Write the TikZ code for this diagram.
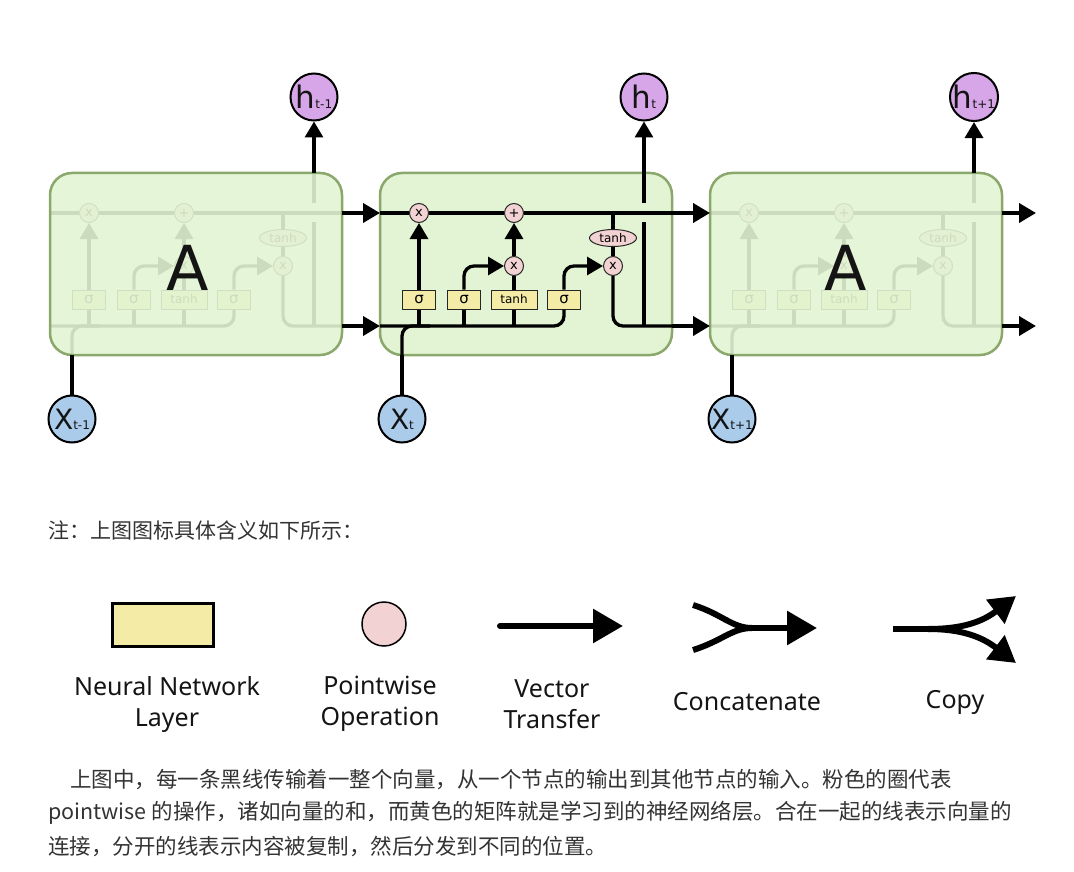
\documentclass[tikz,border=0pt]{standalone}
\usepackage{fontspec}
\setmainfont{DejaVu Sans}
\newfontfamily\legfont{Noto Sans}
\newfontfamily\cjk{Noto Sans CJK SC}
\usepackage{tikz}
\usetikzlibrary{arrows.meta,shapes.geometric,positioning}

\definecolor{cellgreen}{RGB}{226,244,211}
\definecolor{celledge}{RGB}{138,168,108}
\definecolor{gateyellow}{RGB}{244,236,166}
\definecolor{pwpink}{RGB}{242,210,210}
\definecolor{hpurple}{RGB}{214,166,232}
\definecolor{xblue}{RGB}{170,204,234}
\definecolor{txtgray}{RGB}{51,51,51}
\definecolor{ink}{RGB}{20,20,20}

\tikzset{
  cellbox/.style={draw=celledge,line width=2.5pt,fill=cellgreen,rounded corners=22pt,
    minimum width=292pt,minimum height=182pt,inner sep=0pt},
  gate/.style={draw=black!85,line width=1pt,fill=gateyellow,minimum height=19pt,
    minimum width=33pt,inner sep=0pt,font=\fontsize{15}{15}\selectfont},
  pw/.style={circle,draw=black!85,line width=1pt,fill=pwpink,minimum size=19pt,
    inner sep=0pt,font=\fontsize{13}{13}\selectfont},
  pwell/.style={ellipse,draw=black!85,line width=1pt,fill=pwpink,minimum width=47pt,
    minimum height=17pt,inner sep=0pt,font=\fontsize{12}{12}\selectfont},
  wire/.style={line width=3.3pt},
  vec/.style={line width=3.3pt,-{Triangle[length=16pt,width=18pt]}},
  link/.style={line width=4pt,-{Triangle[length=17pt,width=19pt]}},
  hnode/.style={circle,draw,line width=2pt,fill=hpurple,minimum size=47pt,inner sep=0pt,text=ink},
  xnode/.style={circle,draw,line width=2pt,fill=xblue,minimum size=47pt,inner sep=0pt,text=ink},
  bigA/.style={text=ink,font=\fontsize{62}{62}\selectfont},
  legvec/.style={line width=6pt,-{Triangle[length=30pt,width=33pt]}},
  legtext/.style={align=center,text=ink,font=\legfont\fontsize{25}{31}\selectfont},
  cjktext/.style={anchor=west,inner sep=0pt,text=txtgray,font=\cjk\fontsize{21.5}{21.5}\selectfont},
}

\begin{document}
\begin{tikzpicture}[x=1pt,y=-1pt]
  \useasboundingbox (0,0) rectangle (1074,872);

  \node[cellbox] (M-cell) at (526,264) {};

  \foreach \lbl/\cx in {L/50,M/380,R/710}{
    \node[pw] (\lbl-xf) at (\cx+39,213) {x};
    \node[pw] (\lbl-add) at (\cx+134,213) {+};
    \node[pw] (\lbl-xi) at (\cx+134,266) {x};
    \node[pw] (\lbl-xo) at (\cx+233,266) {x};
    \node[pwell] (\lbl-th) at (\cx+233,238) {tanh};
    \node[gate] (\lbl-sf) at (\cx+39,299.5) {σ};
    \node[gate] (\lbl-si) at (\cx+84,299.5) {σ};
    \node[gate,minimum width=46pt,font=\fontsize{12}{12}\selectfont] (\lbl-tg) at (\cx+134,299.5) {tanh};
    \node[gate] (\lbl-so) at (\cx+184,299.5) {σ};
    \coordinate (\lbl-in) at (\cx,213);
    \coordinate (\lbl-out) at (\cx+292,213);
    \coordinate (\lbl-bin) at (\cx,326);
    \coordinate (\lbl-bout) at (\cx+292,326);
    \coordinate (\lbl-hbot) at (\cx+264,326);
    \coordinate (\lbl-hlo) at (\cx+264,222);
    \coordinate (\lbl-hhi) at (\cx+264,203);
    \coordinate (\lbl-htop) at (\cx+264,173);
    \coordinate (\lbl-xbot) at (\cx+22,355);
    \coordinate (\lbl-xjoin) at (\cx+50,326);
    \draw[wire] (\lbl-in) -- (\lbl-xf) -- (\lbl-add) -- (\lbl-out);
    \draw[wire] (\lbl-th) -- (\lbl-th |- \lbl-in);
    \draw[wire] (\lbl-th) -- (\lbl-xo);
    \draw[wire,rounded corners=10pt] (\lbl-xo) |- (\lbl-bout);
    \draw[wire] (\lbl-hbot) -- (\lbl-hlo);
    \draw[wire] (\lbl-hhi) -- (\lbl-htop);
    \draw[wire,rounded corners=10pt] (\lbl-bin) -| (\lbl-so);
    \draw[wire,rounded corners=10pt] (\lbl-xbot) |- (\lbl-xjoin);
    \draw[wire] (\lbl-sf) -- (\lbl-sf |- \lbl-bin);
    \draw[wire] (\lbl-si) -- (\lbl-si |- \lbl-bin);
    \draw[wire] (\lbl-tg) -- (\lbl-tg |- \lbl-bin);
    \draw[vec] (\lbl-sf) -- (\lbl-xf);
    \draw[vec,rounded corners=10pt] (\lbl-si) |- (\lbl-xi);
    \draw[wire] (\lbl-tg) -- (\lbl-xi);
    \draw[vec] (\lbl-xi) -- (\lbl-add);
    \draw[vec,rounded corners=10pt] (\lbl-so) |- (\lbl-xo);
  }

  \node[cellbox,fill opacity=0.9] (L-cell) at (196,264) {};
  \node[cellbox,fill opacity=0.9] (R-cell) at (856,264) {};
  \node[bigA] (L-A) at (188,268) {A};
  \node[bigA] (R-A) at (846,268) {A};

  \coordinate (R-next) at (1036,213);
  \coordinate (R-nextb) at (1036,326);
  \draw[link] (L-out) -- (M-in);
  \draw[link] (L-bout) -- (M-bin);
  \draw[link] (M-out) -- (R-in);
  \draw[link] (M-bout) -- (R-bin);
  \draw[link] (R-out) -- (R-next);
  \draw[link] (R-bout) -- (R-nextb);

  \node[hnode] (L-h) at (314,97) {{\fontsize{31}{31}\selectfont h}{\fontsize{12}{12}\selectfont t-1}};
  \node[hnode] (M-h) at (644,97) {{\fontsize{31}{31}\selectfont h}{\fontsize{12}{12}\selectfont t}};
  \node[hnode] (R-h) at (974,97) {{\fontsize{31}{31}\selectfont h}{\fontsize{12}{12}\selectfont t+1}};
  \node[xnode] (L-x) at (72,419) {{\fontsize{28}{28}\selectfont X}{\fontsize{12}{12}\selectfont t-1}};
  \node[xnode] (M-x) at (402,419) {{\fontsize{28}{28}\selectfont X}{\fontsize{12}{12}\selectfont t}};
  \node[xnode] (R-x) at (732,419) {{\fontsize{28}{28}\selectfont X}{\fontsize{12}{12}\selectfont t+1}};
  \draw[vec] (L-htop) -- (L-h);
  \draw[vec] (M-htop) -- (M-h);
  \draw[vec] (R-htop) -- (R-h);
  \draw[wire] (L-x) -- (L-xbot);
  \draw[wire] (M-x) -- (M-xbot);
  \draw[wire] (R-x) -- (R-xbot);

  \node[cjktext,font=\cjk\fontsize{21}{21}\selectfont] (note) at (48,530) {注：上图图标具体含义如下所示：};

  \node[draw,line width=2.5pt,fill=gateyellow,minimum width=101pt,minimum height=43pt] (leg-nn) at (163,625) {};
  \node[circle,draw,line width=1.5pt,fill=pwpink,minimum size=44pt,inner sep=0pt] (leg-pw) at (384,624) {};
  \coordinate (leg-v1) at (500,626);
  \coordinate (leg-v2) at (623,626);
  \draw[legvec,line cap=round] (leg-v1) -- (leg-v2);
  \coordinate (leg-c1) at (693,605);
  \coordinate (leg-c2) at (693,650);
  \coordinate (leg-cm) at (752,628);
  \coordinate (leg-c3) at (817,628);
  \draw[line width=6pt] (leg-c1) .. controls (722,614) and (732,628) .. (leg-cm);
  \draw[line width=6pt] (leg-c2) .. controls (722,641) and (732,628) .. (leg-cm);
  \draw[legvec] (leg-cm) -- (leg-c3);
  \coordinate (leg-k1) at (893,629);
  \coordinate (leg-k2) at (928,629);
  \coordinate (leg-k3) at (1016,596);
  \coordinate (leg-k4) at (1016,663);
  \draw[line width=6pt] (leg-k1) -- (leg-k2);
  \draw[line width=6pt,-{Triangle[length=26pt,width=29pt]}] (leg-k2) .. controls (962,629) and (982,622) .. (leg-k3);
  \draw[line width=6pt,-{Triangle[length=26pt,width=29pt]}] (leg-k2) .. controls (962,629) and (982,637) .. (leg-k4);

  \node[legtext] (leg-nn-t) at (167,704) {Neural Network\\Layer};
  \node[legtext] (leg-pw-t) at (380,704) {Pointwise\\Operation};
  \node[legtext] (leg-vt-t) at (552,704) {Vector\\Transfer};
  \node[legtext] (leg-cc-t) at (747,702) {Concatenate};
  \node[legtext] (leg-cp-t) at (955,702) {Copy};

  \node[cjktext] (para1) at (70,780) {上图中，每一条黑线传输着一整个向量，从一个节点的输出到其他节点的输入。粉色的圈代表};
  \node[cjktext] (para2) at (48,813) {pointwise 的操作，诸如向量的和，而黄色的矩阵就是学习到的神经网络层。合在一起的线表示向量的};
  \node[cjktext] (para3) at (48,847) {连接，分开的线表示内容被复制，然后分发到不同的位置。};
\end{tikzpicture}
\end{document}
